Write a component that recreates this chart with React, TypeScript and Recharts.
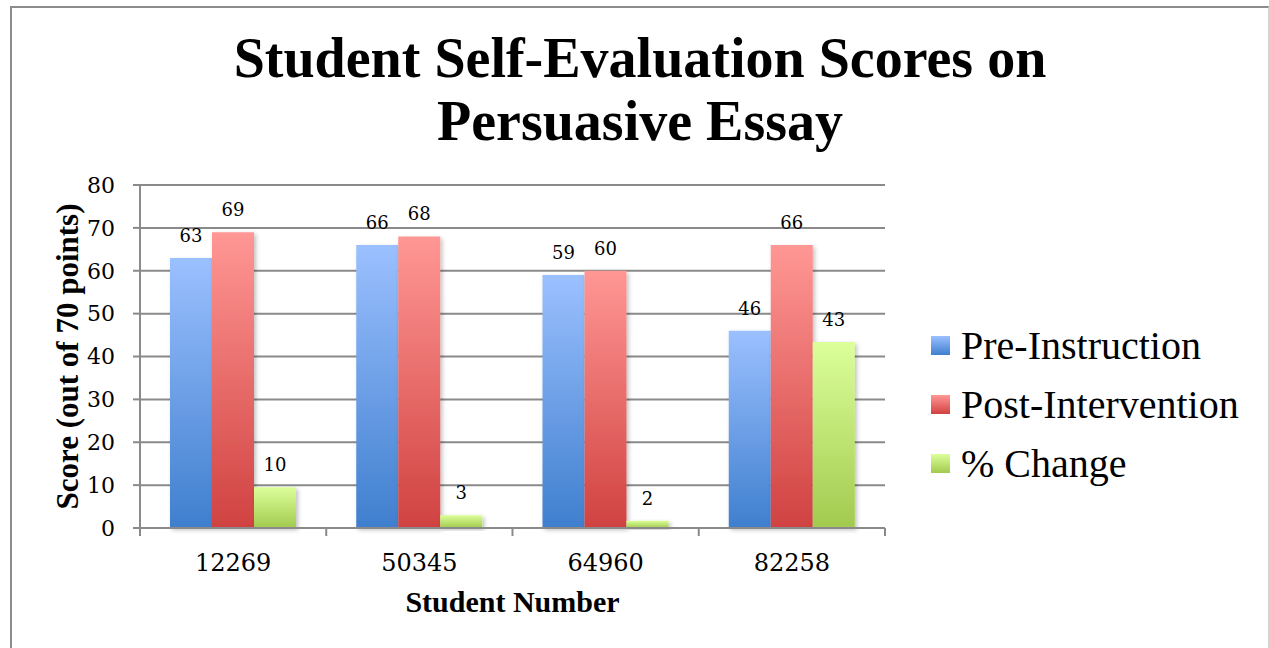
import React from 'react';
import { BarChart, Bar, XAxis, YAxis, CartesianGrid, LabelList } from 'recharts';

const students = ['12269', '50345', '64960', '82258'];
const preInstruction = [63, 66, 59, 46];
const postIntervention = [69, 68, 60, 66];
const pctChange = [9.5, 3.0, 1.7, 43.4];
const yTicks = [0, 10, 20, 30, 40, 50, 60, 70, 80];

const seriesNames = ['Pre-Instruction', 'Post-Intervention', '% Change'];

const data = students.map((s, i) => ({
  student: s,
  pre: preInstruction[i],
  post: postIntervention[i],
  change: pctChange[i],
}));

const NUM_FONT = '"DejaVu Serif", serif';
const TXT_FONT = '"Liberation Serif", serif';
const GRID = '#8a8a8a';

const gradients = [
  { id: 'gBlue', top: '#9BC0FF', bottom: '#3F7FCE' },
  { id: 'gRed', top: '#FF9794', bottom: '#D04241' },
  { id: 'gGreen', top: '#DCFF9A', bottom: '#A2CA4E' },
];

const XTick = (props: any) => {
  const { x, y, payload, width, visibleTicksCount, index } = props;
  const band = (width || 745) / (visibleTicksCount || 4);
  const left = x - band / 2;
  const right = x + band / 2;
  return (
    <g>
      <line x1={left} x2={left} y1={y} y2={y + 8} stroke={GRID} strokeWidth={2} />
      {index === (visibleTicksCount || 4) - 1 && (
        <line x1={right} x2={right} y1={y} y2={y + 8} stroke={GRID} strokeWidth={2} />
      )}
      <text x={x} y={y + 43} textAnchor="middle" fontFamily={NUM_FONT} fontSize={24} fill="#000">
        {payload.value}
      </text>
    </g>
  );
};

const YLabel = (props: any) => {
  const vb = props.viewBox || { x: 0, y: 185, width: 140, height: 343 };
  const cx = vb.x + 67;
  const cy = vb.y + vb.height / 2;
  return (
    <text
      x={cx}
      y={cy}
      transform={`rotate(-90 ${cx} ${cy})`}
      textAnchor="middle"
      dominantBaseline="central"
      fontFamily={TXT_FONT}
      fontWeight="bold"
      fontSize={31}
      fill="#000"
    >
      Score (out of 70 points)
    </text>
  );
};

const XLabel = (props: any) => {
  const vb = props.viewBox || { x: 140, y: 528, width: 745, height: 120 };
  return (
    <text
      x={vb.x + vb.width / 2}
      y={vb.y + 84}
      textAnchor="middle"
      fontFamily={TXT_FONT}
      fontWeight="bold"
      fontSize={30}
      fill="#000"
    >
      Student Number
    </text>
  );
};

const fmt = (v: any) => Math.round(Number(v));

export default function App() {
  return (
    <div style={{ position: 'absolute', left: 0, top: 0, width: 1269, height: 648, background: '#fff', overflow: 'hidden' }}>
      <div
        style={{
          position: 'absolute',
          left: 10,
          top: 6,
          width: 1256,
          height: 700,
          borderLeft: '2px solid #8c8c8c',
          borderTop: '2px solid #8c8c8c',
          borderRight: '1px solid #d0d0d0',
        }}
      />
      <div
        style={{
          position: 'absolute',
          left: 11,
          width: 1258,
          top: 27,
          textAlign: 'center',
          fontFamily: TXT_FONT,
          fontWeight: 'bold',
          fontSize: 56,
          lineHeight: '63px',
          color: '#000',
        }}
      >
        Student Self-Evaluation Scores on
        <br />
        Persuasive Essay
      </div>
      <div style={{ position: 'absolute', left: 0, top: 0 }}>
        <BarChart
          width={1269}
          height={648}
          data={data}
          margin={{ top: 185, right: 384, bottom: 0, left: 0 }}
          barCategoryGap={30}
          barGap={0}
        >
          <defs>
            {gradients.map((g) => (
              <linearGradient key={g.id} id={g.id} x1="0" y1="0" x2="0" y2="1">
                <stop offset="0%" stopColor={g.top} />
                <stop offset="100%" stopColor={g.bottom} />
              </linearGradient>
            ))}
            <filter id="shadow" x="-20%" y="-20%" width="140%" height="140%">
              <feDropShadow dx="2" dy="2" stdDeviation="2" floodColor="#000" floodOpacity="0.25" />
            </filter>
          </defs>
          <CartesianGrid vertical={false} stroke={GRID} strokeWidth={2} />
          <XAxis
            dataKey="student"
            height={120}
            tickLine={false}
            tickSize={0}
            tickMargin={0}
            axisLine={{ stroke: GRID, strokeWidth: 2 }}
            tick={<XTick />}
            interval={0}
            label={<XLabel />}
          />
          <YAxis
            width={140}
            domain={[0, 80]}
            ticks={yTicks}
            interval={0}
            tickSize={7}
            tickMargin={18}
            tickLine={{ stroke: GRID, strokeWidth: 2 }}
            axisLine={{ stroke: GRID, strokeWidth: 2 }}
            tick={{ fontFamily: NUM_FONT, fontSize: 22, fill: '#000' }}
            label={<YLabel />}
          />
          <Bar dataKey="pre" name={seriesNames[0]} fill="url(#gBlue)" isAnimationActive={false} filter="url(#shadow)">
            <LabelList dataKey="pre" position="top" offset={16} formatter={fmt} fontFamily={NUM_FONT} fontSize={18} fill="#000" />
          </Bar>
          <Bar dataKey="post" name={seriesNames[1]} fill="url(#gRed)" isAnimationActive={false} filter="url(#shadow)">
            <LabelList dataKey="post" position="top" offset={16} formatter={fmt} fontFamily={NUM_FONT} fontSize={18} fill="#000" />
          </Bar>
          <Bar dataKey="change" name={seriesNames[2]} fill="url(#gGreen)" isAnimationActive={false} filter="url(#shadow)">
            <LabelList dataKey="change" position="top" offset={16} formatter={fmt} fontFamily={NUM_FONT} fontSize={18} fill="#000" />
          </Bar>
        </BarChart>
      </div>
      <div style={{ position: 'absolute', left: 931, top: 316 }}>
        {seriesNames.map((name, i) => (
          <div key={name} style={{ display: 'flex', alignItems: 'center', height: 59 }}>
            <div
              style={{
                width: 19,
                height: 19,
                background: `linear-gradient(${gradients[i].top}, ${gradients[i].bottom})`,
                marginRight: 11,
              }}
            />
            <span style={{ fontFamily: TXT_FONT, fontSize: 40, color: '#000', whiteSpace: 'nowrap' }}>{name}</span>
          </div>
        ))}
      </div>
    </div>
  );
}
